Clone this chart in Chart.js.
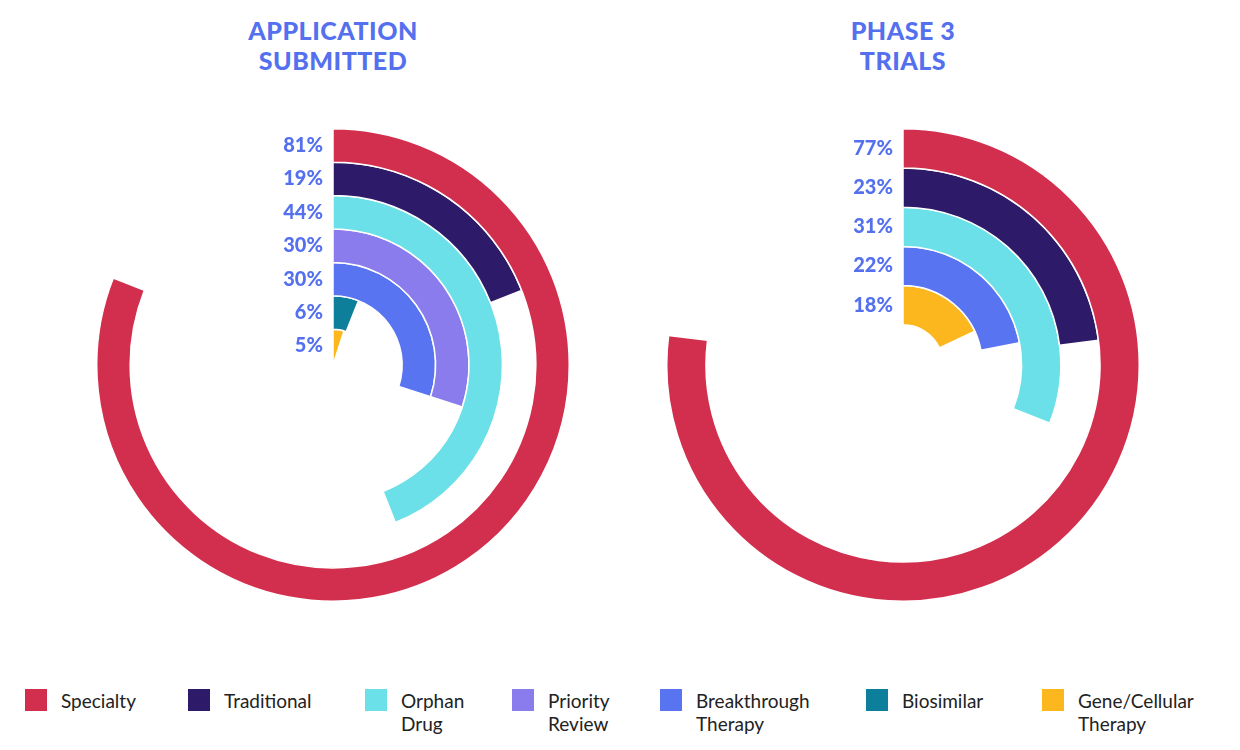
<!DOCTYPE html>
<html>
<head>
<meta charset="utf-8">
<script src="https://cdn.jsdelivr.net/npm/chart.js@4"></script>
<style>
  body { margin:0; width:1240px; height:750px; background:#fff; font-family:Lato, "Open Sans", sans-serif; position:relative; overflow:hidden; }
  .title { position:absolute; width:300px; text-align:center; color:#5470EE; font-weight:900; font-size:25px; line-height:30px; letter-spacing:0.5px; }
  canvas { position:absolute; }
  .leg { position:absolute; top:689px; display:flex; align-items:flex-start; font-size:19px; color:#222; line-height:23px; }
  .leg span.sw { width:22px; height:22px; margin-right:14px; flex:none; }
</style>
</head>
<body>
<div class="title" style="left:183px;top:15px">APPLICATION<br>SUBMITTED</div>
<div class="title" style="left:753px;top:15px">PHASE 3<br>TRIALS</div>
<canvas id="c1" width="474" height="474" style="left:96px;top:128px"></canvas>
<canvas id="c2" width="474" height="474" style="left:666px;top:128px"></canvas>
<div id="legend"></div>
<script>
var categories = ["Specialty", "Traditional", "Orphan Drug", "Priority Review", "Breakthrough Therapy", "Biosimilar", "Gene/Cellular Therapy"];
var legendLines = [["Specialty"], ["Traditional"], ["Orphan", "Drug"], ["Priority", "Review"], ["Breakthrough", "Therapy"], ["Biosimilar"], ["Gene/Cellular", "Therapy"]];
var colors = ["#D22F4E", "#2D1B69", "#6BE0E8", "#8A7CEC", "#5874F0", "#0E7F9A", "#FDB71E"];
var legendX = [25, 188, 365, 512, 660, 866, 1042];

var appCats = [0, 1, 2, 3, 4, 5, 6];
var appValues = [81, 19, 44, 30, 30, 6, 5];
var p3Cats = [0, 1, 2, 4, 6];
var p3Values = [77, 23, 31, 22, 18];

var pctLabels = {
  id: "pctLabels",
  afterDraw: function(chart) {
    var ctx = chart.ctx;
    ctx.save();
    ctx.fillStyle = "#5470EE";
    ctx.font = "900 20px Lato, sans-serif";
    ctx.textAlign = "right";
    ctx.textBaseline = "middle";
    chart.data.datasets.forEach(function(ds, i) {
      var arc = chart.getDatasetMeta(i).data[0];
      var r = (arc.innerRadius + arc.outerRadius) / 2;
      ctx.fillText(ds.data[0] + "%", arc.x - 10, arc.y - r);
    });
    ctx.restore();
  }
};

function makeChart(id, cats, values, cutout) {
  var datasets = [];
  for (var i = 0; i < values.length; i++) {
    datasets.push({
      label: categories[cats[i]],
      data: [values[i], 100 - values[i]],
      backgroundColor: [colors[cats[i]], "rgba(0,0,0,0)"],
      borderColor: ["#fff", "rgba(0,0,0,0)"],
      borderWidth: [1.5, 0],
      hoverOffset: 0
    });
  }
  new Chart(document.getElementById(id), {
    type: "doughnut",
    data: { labels: ["value", "rest"], datasets: datasets },
    options: {
      responsive: false,
      animation: false,
      cutout: cutout,
      layout: { padding: 0 },
      plugins: { legend: { display: false }, tooltip: { enabled: false } }
    },
    plugins: [pctLabels]
  });
}

makeChart("c1", appCats, appValues, "1%");
makeChart("c2", p3Cats, p3Values, "17%");

var leg = document.getElementById("legend");
for (var i = 0; i < categories.length; i++) {
  var d = document.createElement("div");
  d.className = "leg";
  d.style.left = legendX[i] + "px";
  d.innerHTML = '<span class="sw" style="background:' + colors[i] + '"></span><span>' + legendLines[i].join("<br>") + "</span>";
  leg.appendChild(d);
}
</script>
</body>
</html>
